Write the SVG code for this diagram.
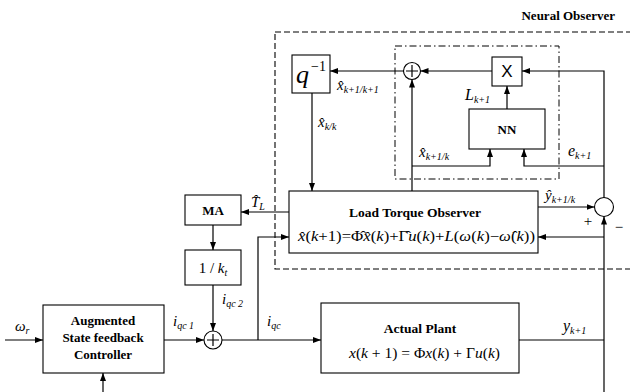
<svg xmlns="http://www.w3.org/2000/svg" width="630" height="392" viewBox="0 0 630 392">
<style>
.bx{fill:#fff;stroke:#000;stroke-width:1.1}
.ln{fill:none;stroke:#000;stroke-width:1.2}
.dash{fill:none;stroke:#000;stroke-width:1.1;stroke-dasharray:6,3}
.dd{fill:none;stroke:#000;stroke-width:1;stroke-dasharray:7,3,1.5,3}
.b{font-family:"Liberation Serif",serif;font-weight:bold}
.m{font-family:"Liberation Serif",serif;font-style:italic}
.r{font-family:"Liberation Serif",serif}
.i{font-style:italic}
.n{font-style:normal}
.s{font-size:10px}
</style>
<defs>
<marker id="a" markerUnits="userSpaceOnUse" markerWidth="8" markerHeight="6" refX="8" refY="3" orient="auto">
<path d="M0,0 L8,3 L0,6 z" fill="#000"/>
</marker>
</defs>
<rect width="630" height="392" fill="#fff"/>
<g id="neural-observer">
<rect class="dash" x="275" y="32" width="370" height="237"/>
<text class="b" x="615" y="20" text-anchor="end" font-size="13">Neural Observer</text>
</g>
<g id="nn-region">
<rect class="dd" x="395" y="46" width="164" height="133"/>
</g>
<g id="delay">
<rect class="bx" x="292" y="55" width="38" height="38"/>
<text class="m" x="296" y="83" font-size="26">q</text>
<text class="r" x="311" y="71" font-size="14">−1</text>
</g>
<g id="sum-top">
<circle class="bx" cx="412" cy="71" r="8.5"/>
<path class="ln" d="M406,71 H418 M412,65 V77"/>
</g>
<g id="mult">
<rect class="bx" x="492" y="57" width="30" height="29"/>
<text x="507" y="77" text-anchor="middle" font-family="Liberation Sans,sans-serif" font-size="17">X</text>
</g>
<g id="nn">
<rect class="bx" x="469" y="109" width="76" height="40"/>
<text class="b" x="507" y="134" text-anchor="middle" font-size="13">NN</text>
</g>
<g id="lto">
<rect class="bx" x="289" y="191" width="249" height="62"/>
<text class="b" x="415" y="217" text-anchor="middle" font-size="13.5">Load Torque Observer</text>
<text class="r" x="298" y="241" font-size="14.5" textLength="237" lengthAdjust="spacingAndGlyphs"><tspan class="i">x̂</tspan>(<tspan class="i">k</tspan>+1)=Φ̂<tspan class="i">x̂</tspan>(<tspan class="i">k</tspan>)+Γ̂<tspan class="i">u</tspan>(<tspan class="i">k</tspan>)+<tspan class="i">L</tspan>(<tspan class="i">ω</tspan>(<tspan class="i">k</tspan>)−<tspan class="i">ω̂</tspan>(<tspan class="i">k</tspan>))</text>
</g>
<g id="sum-err">
<circle class="bx" cx="604" cy="207" r="9.5"/>
</g>
<g id="ma">
<rect class="bx" x="185" y="195" width="56" height="30"/>
<text class="b" x="213" y="215" text-anchor="middle" font-size="13">MA</text>
</g>
<g id="kt">
<rect class="bx" x="185" y="250" width="56" height="35"/>
<text class="r" x="213" y="273" text-anchor="middle" font-size="15">1 / <tspan class="i">k</tspan><tspan class="s i" dy="3">t</tspan></text>
</g>
<g id="sum-bottom">
<circle class="bx" cx="213" cy="340" r="9"/>
<path class="ln" d="M207,340 H219 M213,334 V346"/>
</g>
<g id="controller">
<rect class="bx" x="43" y="305" width="121" height="68"/>
<text class="b" x="103" y="325" text-anchor="middle" font-size="13">Augmented</text>
<text class="b" x="103" y="342" text-anchor="middle" font-size="13">State feedback</text>
<text class="b" x="103" y="359" text-anchor="middle" font-size="13">Controller</text>
</g>
<g id="plant">
<rect class="bx" x="321" y="303" width="198" height="70"/>
<text class="b" x="420" y="333" text-anchor="middle" font-size="13.5">Actual Plant</text>
<text class="r" x="349" y="358" font-size="14.5" textLength="151" lengthAdjust="spacingAndGlyphs"><tspan class="i">x</tspan>(<tspan class="i">k</tspan> + 1) = Φ<tspan class="i">x</tspan>(<tspan class="i">k</tspan>) + Γ<tspan class="i">u</tspan>(<tspan class="i">k</tspan>)</text>
</g>
<g id="connectors">
<path class="ln" d="M403.5,71 H330" marker-end="url(#a)"/>
<path class="ln" d="M312,93 V191" marker-end="url(#a)"/>
<path class="ln" d="M492,71 H420.5" marker-end="url(#a)"/>
<path class="ln" d="M604,197.5 V71 H522" marker-end="url(#a)"/>
<path class="ln" d="M604,166 H524 V149" marker-end="url(#a)"/>
<path class="ln" d="M507,109 V86" marker-end="url(#a)"/>
<path class="ln" d="M412,191 V79.5" marker-end="url(#a)"/>
<path class="ln" d="M412,166 H490 V149" marker-end="url(#a)"/>
<path class="ln" d="M538,207 H594.5" marker-end="url(#a)"/>
<path class="ln" d="M604,392 V216.5" marker-end="url(#a)"/>
<path class="ln" d="M604,237 H538" marker-end="url(#a)"/>
<path class="ln" d="M519,340 H604"/>
<path class="ln" d="M289,212 H241" marker-end="url(#a)"/>
<path class="ln" d="M213,225 V250" marker-end="url(#a)"/>
<path class="ln" d="M213,285 V331" marker-end="url(#a)"/>
<path class="ln" d="M5,340 H43" marker-end="url(#a)"/>
<path class="ln" d="M164,340 H204" marker-end="url(#a)"/>
<path class="ln" d="M222,340 H321" marker-end="url(#a)"/>
<path class="ln" d="M258,340 V237 H289" marker-end="url(#a)"/>
<path class="ln" d="M103,392 V373" marker-end="url(#a)"/>
</g>
<g id="labels">
<text class="m" x="337" y="90" font-size="15">x̂<tspan class="s" dy="3">k+1/k+1</tspan></text>
<text class="m" x="318" y="127" font-size="15">x̂<tspan class="s" dy="3">k/k</tspan></text>
<text class="m" x="465" y="100" font-size="16">L<tspan class="s" dy="3">k+1</tspan></text>
<text class="m" x="419" y="157" font-size="15">x̂<tspan class="s" dy="3">k+1/k</tspan></text>
<text class="m" x="568" y="156" font-size="16">e<tspan class="s" dy="3">k+1</tspan></text>
<text class="m" x="545" y="200" font-size="15">ŷ<tspan class="s" dy="3">k+1/k</tspan></text>
<text class="r" x="588" y="226" text-anchor="middle" font-size="15">+</text>
<text class="r" x="619" y="232" text-anchor="middle" font-size="15">−</text>
<text class="m" x="251" y="207" font-size="15">T̂<tspan class="s" dy="3">L</tspan></text>
<text class="m" x="222" y="304" font-size="15">i<tspan class="s" dy="3">qc 2</tspan></text>
<text class="m" x="173" y="326" font-size="15">i<tspan class="s" dy="3">qc 1</tspan></text>
<text class="m" x="267" y="326" font-size="15">i<tspan class="s" dy="3">qc</tspan></text>
<text class="m" x="15" y="331" font-size="15">ω<tspan class="s" dy="3">r</tspan></text>
<text class="m" x="563" y="331" font-size="16">y<tspan class="s" dy="3">k+1</tspan></text>
</g>
</svg>
